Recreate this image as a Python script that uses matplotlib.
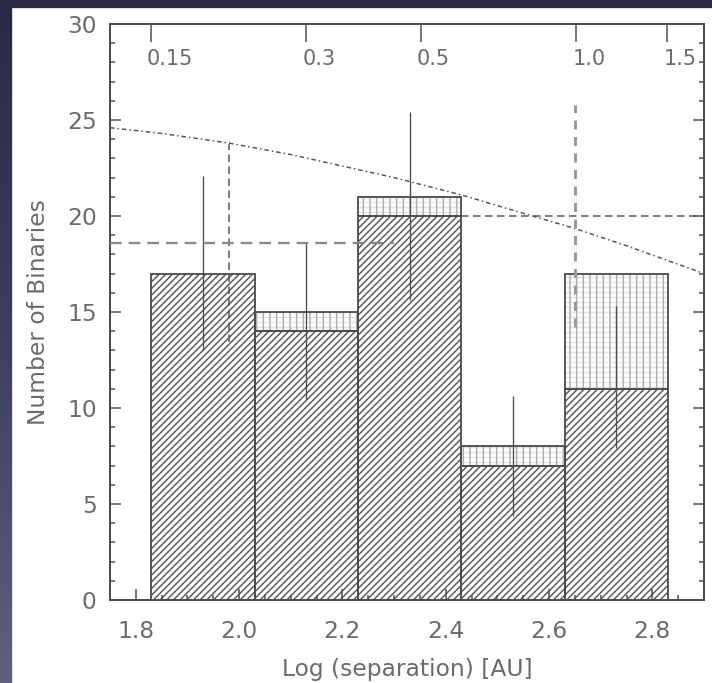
import matplotlib
matplotlib.use('Agg')
import matplotlib.pyplot as plt
import numpy as np
from matplotlib.ticker import MultipleLocator
from matplotlib.transforms import ScaledTranslation

# histogram of binary separations (log AU), bins of 0.2 dex
bin_left = [1.83, 2.03, 2.23, 2.43, 2.63]
bin_width = 0.2
n_hatched = [17, 14, 20, 7, 11]
n_total = [17, 15, 21, 8, 17]

# poisson error bars
err_x = [1.93, 2.13, 2.33, 2.53, 2.73]
err_lo = [13.0, 10.4, 15.6, 4.4, 7.9]
err_hi = [22.1, 18.6, 25.4, 10.6, 15.3]

# field distribution, scaled
curve_x = [1.75, 1.85, 1.98, 2.10, 2.20, 2.30, 2.43, 2.53, 2.65, 2.75, 2.90]
curve_y = [24.6, 24.3, 23.8, 23.2, 22.6, 22.0, 21.1, 20.3, 19.35, 18.45, 17.0]

# mean levels with their spread
cross_x = [1.98, 2.65]
cross_y = [18.6, 20.0]
cross_dy = [5.15, 5.8]
hline_lo = [1.75, 2.43]
hline_hi = [2.30, 2.90]

# angular separations on the top axis (arcsec), 450 pc
sep_arcsec = [0.15, 0.3, 0.5, 1.0, 1.5]
sep_labels = ['0.15', '0.3', '0.5', '1.0', '1.5']
log_dist = 2.653

ink = '#4d4d4d'
txt = '#6b6b6b'
plt.rcParams['hatch.linewidth'] = 0.9

fig = plt.figure(figsize=(712 / 120, 683 / 120), dpi=120)

# dark slide background with a white panel
bg = fig.add_axes([0, 0, 1, 1])
grad = np.linspace(0, 1, 256).reshape(-1, 1)
cmap = matplotlib.colors.LinearSegmentedColormap.from_list('bg', ['#2b2a44', '#3c3f60', '#5d617b'])
bg.imshow(grad, aspect='auto', cmap=cmap, extent=[0, 1, 0, 1])
bg.add_patch(plt.Rectangle((13 / 712, 0), 1, 1 - 9 / 683, color='white'))
bg.set_xlim(0, 1)
bg.set_ylim(0, 1)
bg.axis('off')

ax = fig.add_axes([110 / 712, 1 - 600 / 683, 594 / 712, 576 / 683])
ax.set_xlim(1.75, 2.9)
ax.set_ylim(0, 30)

# hatched part of each bin
ax.bar(bin_left, n_hatched, width=bin_width, align='edge', facecolor='white',
       edgecolor='#5a5a5a', hatch='//////', linewidth=0, zorder=1)
ax.bar(bin_left, n_hatched, width=bin_width, align='edge', fill=False,
       edgecolor=ink, linewidth=1.1, zorder=2)

# dotted extra counts on top
extra = [t - h for t, h in zip(n_total, n_hatched)]
ax.bar(bin_left, extra, bottom=n_hatched, width=bin_width, align='edge', facecolor='white',
       edgecolor='#e6e6e6', hatch='----', linewidth=0, zorder=1)
ax.bar(bin_left, extra, bottom=n_hatched, width=bin_width, align='edge', fill=False,
       edgecolor='#b0b0b0', hatch='|||', linewidth=0, zorder=1)
for x0, h, e in zip(bin_left, n_hatched, extra):
    if e > 0:
        ax.bar(x0, e, bottom=h, width=bin_width, align='edge', fill=False,
               edgecolor=ink, linewidth=1.1, zorder=2)

ax.vlines(err_x, err_lo, err_hi, color=ink, linewidth=0.8, zorder=3)

ax.plot(curve_x, curve_y, color='#555555', linewidth=0.9, dashes=(3, 2, 1, 2), zorder=3)

ax.vlines(cross_x[0], cross_y[0] - cross_dy[0], cross_y[0] + cross_dy[0],
          color='#555555', linewidth=0.9, linestyles=(0, (5, 3)), zorder=3)
ax.hlines(cross_y[0], hline_lo[0], hline_hi[0], color='#8a8a8a', linewidth=1.4,
          linestyles=(0, (5, 3)), zorder=3)
ax.vlines(cross_x[1], cross_y[1] - cross_dy[1], cross_y[1] + cross_dy[1],
          color='#9a9a9a', linewidth=1.8, linestyles=(0, (3, 2.5)), zorder=3)
ax.hlines(cross_y[1], hline_lo[1], hline_hi[1], color='#555555', linewidth=0.9,
          linestyles=(0, (5, 3)), zorder=3)

# axes in the IDL style: inward ticks on all sides
ax.xaxis.set_major_locator(MultipleLocator(0.2))
ax.xaxis.set_minor_locator(MultipleLocator(0.05))
ax.yaxis.set_major_locator(MultipleLocator(5))
ax.yaxis.set_minor_locator(MultipleLocator(1))
ax.xaxis.set_major_formatter(matplotlib.ticker.FormatStrFormatter('%.1f'))
ax.tick_params(which='both', direction='in', color=ink, width=0.9,
               left=True, right=True, bottom=True, top=False, labelcolor=txt, labelsize=14)
ax.tick_params(which='major', length=6.5)
ax.tick_params(which='minor', length=3)
ax.tick_params(axis='x', pad=12)
ax.tick_params(axis='y', pad=8)
for s in ax.spines.values():
    s.set_color(ink)
    s.set_linewidth(1.2)

ax.set_xlabel('Log (separation) [AU]', fontsize=14, color=txt, labelpad=9)
ax.set_ylabel('Number of Binaries', fontsize=14, color=txt, labelpad=10)

top = ax.secondary_xaxis('top', functions=(lambda x: 10 ** (x - log_dist),
                                           lambda s: np.log10(np.clip(s, 1e-6, None)) + log_dist))
top.set_xticks(sep_arcsec, sep_labels)
top.tick_params(direction='in', length=11, width=0.9, color=ink, labelcolor=txt,
                labelsize=12.5, pad=-27)
top.spines['top'].set_visible(False)
shift = ScaledTranslation(-4 / 120, 0, fig.dpi_scale_trans)
for lbl in top.get_xticklabels():
    lbl.set_horizontalalignment('left')
    lbl.set_transform(lbl.get_transform() + shift)

fig.savefig('out.png', dpi=120)
